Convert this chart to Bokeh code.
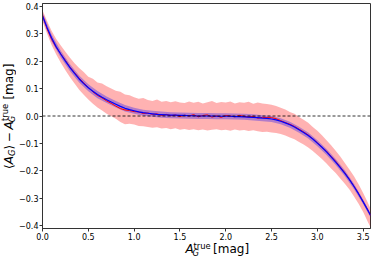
from bokeh.plotting import figure
from bokeh.models import Range1d, FixedTicker, Span, Label
from bokeh.layouts import row, column
from bokeh.embed import file_html
from bokeh.resources import INLINE
import math

# ---------------- data ----------------
a_true = [0.00, 0.05, 0.10, 0.15, 0.20, 0.25, 0.30, 0.35, 0.40, 0.45,
          0.50, 0.55, 0.60, 0.65, 0.70, 0.75, 0.80, 0.85, 0.90, 0.95,
          1.00, 1.05, 1.10, 1.15, 1.20, 1.25, 1.30, 1.35, 1.40, 1.45,
          1.50, 1.55, 1.60, 1.65, 1.70, 1.75, 1.80, 1.85, 1.90, 1.95,
          2.00, 2.05, 2.10, 2.15, 2.20, 2.25, 2.30, 2.35, 2.40, 2.45,
          2.50, 2.55, 2.60, 2.65, 2.70, 2.75, 2.80, 2.85, 2.90, 2.95,
          3.00, 3.05, 3.10, 3.15, 3.20, 3.25, 3.30, 3.35, 3.40, 3.45,
          3.50, 3.55, 3.58]

mean_bias = [0.368, 0.318, 0.279, 0.250, 0.226, 0.203, 0.178, 0.158, 0.138, 0.121,
             0.104, 0.088, 0.075, 0.066, 0.055, 0.046, 0.036, 0.027, 0.022, 0.020,
             0.016, 0.015, 0.009, 0.011, 0.006, 0.008, 0.002, 0.006, 0.001, 0.004,
             -0.002, 0.003, 0.000, 0.005, -0.003, 0.002, 0.004, -0.004, 0.001, -0.005,
             0.002, 0.000, -0.003, 0.002, -0.001, -0.004, -0.001, -0.008, -0.005, -0.006,
             -0.006, -0.010, -0.017, -0.024, -0.030, -0.038, -0.048, -0.058, -0.069, -0.083,
             -0.097, -0.114, -0.128, -0.147, -0.165, -0.186, -0.207, -0.231, -0.256, -0.283,
             -0.313, -0.342, -0.362]

fit_bias = [0.365, 0.322, 0.284, 0.252, 0.225, 0.200, 0.176, 0.155, 0.135, 0.118,
            0.103, 0.090, 0.078, 0.068, 0.059, 0.051, 0.043, 0.035, 0.028, 0.023,
            0.019, 0.015, 0.012, 0.010, 0.008, 0.006, 0.005, 0.004, 0.003, 0.003,
            0.002, 0.002, 0.001, 0.001, 0.000, 0.000, 0.000, 0.000, -0.001, -0.001,
            -0.001, -0.001, -0.002, -0.002, -0.003, -0.004, -0.005, -0.006, -0.008, -0.009,
            -0.011, -0.014, -0.019, -0.025, -0.032, -0.040, -0.050, -0.060, -0.071, -0.084,
            -0.099, -0.114, -0.131, -0.149, -0.168, -0.188, -0.209, -0.232, -0.257, -0.284,
            -0.313, -0.343, -0.362]

spread_hi = [0.385, 0.346, 0.310, 0.281, 0.257, 0.234, 0.212, 0.192, 0.175, 0.160,
             0.143, 0.136, 0.122, 0.118, 0.108, 0.100, 0.092, 0.088, 0.078, 0.076,
             0.068, 0.063, 0.066, 0.058, 0.055, 0.060, 0.052, 0.055, 0.050, 0.054,
             0.049, 0.047, 0.053, 0.048, 0.052, 0.046, 0.050, 0.055, 0.047, 0.051,
             0.049, 0.053, 0.046, 0.050, 0.048, 0.052, 0.045, 0.049, 0.046, 0.044,
             0.041, 0.036, 0.030, 0.024, 0.015, 0.008, -0.004, -0.014, -0.025, -0.040,
             -0.054, -0.070, -0.088, -0.107, -0.127, -0.148, -0.171, -0.195, -0.220, -0.249,
             -0.281, -0.315, -0.337]

spread_lo = [0.345, 0.300, 0.258, 0.224, 0.194, 0.167, 0.141, 0.118, 0.096, 0.077,
             0.060, 0.045, 0.031, 0.020, 0.008, -0.001, -0.010, -0.022, -0.030, -0.028,
             -0.031, -0.036, -0.037, -0.040, -0.043, -0.041, -0.046, -0.044, -0.048, -0.045,
             -0.050, -0.047, -0.051, -0.048, -0.052, -0.049, -0.053, -0.050, -0.048, -0.052,
             -0.050, -0.054, -0.049, -0.053, -0.051, -0.055, -0.052, -0.056, -0.058, -0.057,
             -0.060, -0.062, -0.066, -0.071, -0.078, -0.085, -0.095, -0.104, -0.115, -0.128,
             -0.142, -0.157, -0.173, -0.191, -0.208, -0.228, -0.247, -0.268, -0.293, -0.320,
             -0.350, -0.385, -0.405]

inner_x = [0.0, 0.1, 0.2, 0.3, 0.4, 0.5, 0.6, 0.7, 0.8, 0.9,
           1.0, 1.1, 1.2, 1.3, 1.4, 1.5, 1.6, 1.7, 1.8, 1.9,
           2.0, 2.1, 2.2, 2.3, 2.4, 2.5, 2.6, 2.7, 2.8, 2.9,
           3.0, 3.1, 3.2, 3.3, 3.4, 3.5, 3.58]
inner_hi = [0.378, 0.297, 0.238, 0.189, 0.148, 0.116, 0.091, 0.071, 0.055, 0.040,
            0.030, 0.023, 0.019, 0.016, 0.014, 0.013, 0.012, 0.011, 0.011, 0.010,
            0.010, 0.009, 0.008, 0.006, 0.003, 0.000, -0.008, -0.021, -0.039, -0.060,
            -0.088, -0.120, -0.157, -0.198, -0.247, -0.304, -0.354]
inner_lo = [0.352, 0.271, 0.212, 0.163, 0.122, 0.090, 0.065, 0.047, 0.031, 0.016,
            0.008, 0.001, -0.003, -0.006, -0.008, -0.009, -0.010, -0.011, -0.011, -0.012,
            -0.012, -0.013, -0.014, -0.016, -0.019, -0.022, -0.030, -0.043, -0.061, -0.082,
            -0.110, -0.142, -0.179, -0.220, -0.267, -0.322, -0.370]

x_ticks = [0.0, 0.5, 1.0, 1.5, 2.0, 2.5, 3.0, 3.5]
x_tick_labels = ["0.0", "0.5", "1.0", "1.5", "2.0", "2.5", "3.0", "3.5"]
y_ticks = [-0.4, -0.3, -0.2, -0.1, 0.0, 0.1, 0.2, 0.3, 0.4]
y_tick_labels = ["\u22120.4", "\u22120.3", "\u22120.2", "\u22120.1", "0.0", "0.1", "0.2", "0.3", "0.4"]

# ---------------- layout ----------------
TOTAL_W, TOTAL_H = 374, 257
LW = 16                      # strip holding the rotated y label
MW, MH = TOTAL_W - LW, 242   # main plot
BH = TOTAL_H - MH            # strip holding the x label
XMIN, XMAX = 0.0, 3.58
YMIN, YMAX = -0.41, 0.41

p = figure(width=MW, height=MH, output_backend="svg", toolbar_location=None,
           title=None,
           x_range=Range1d(XMIN, XMAX), y_range=Range1d(YMIN, YMAX),
           min_border_left=24, min_border_right=4,
           min_border_top=3, min_border_bottom=14)
p.grid.visible = False
p.background_fill_color = "white"
p.border_fill_color = "white"
p.outline_line_color = "#333333"
p.outline_line_width = 1

for ax, ticks, labels in ((p.xaxis[0], x_ticks, x_tick_labels), (p.yaxis[0], y_ticks, y_tick_labels)):
    ax.ticker = FixedTicker(ticks=ticks)
    ax.major_label_overrides = {t: l for t, l in zip(ticks, labels)}
    ax.minor_tick_line_color = None
    ax.major_tick_in = 0
    ax.major_tick_out = 3
    ax.major_label_standoff = 1
    ax.axis_line_color = "#333333"
    ax.major_tick_line_color = "#333333"
    ax.major_label_text_font = "DejaVu Sans"
    ax.major_label_text_font_size = "8px"
    ax.major_label_text_color = "black"

# bands and lines
p.varea(x=a_true, y1=spread_lo, y2=spread_hi, fill_color="red", fill_alpha=0.3)
p.varea(x=inner_x, y1=inner_lo, y2=inner_hi, fill_color="blue", fill_alpha=0.3)
p.line(a_true, mean_bias, line_color="red", line_width=1)
p.line(a_true, fit_bias, line_color="blue", line_width=1.2)
p.add_layout(Span(location=0, dimension="width", line_color="black",
                  line_dash="3 2", line_width=0.8))


# ---------------- axis-label strips (frame = whole canvas, 1 unit = 1 px) ----------------
def strip(w, h):
    f = figure(width=w, height=h, output_backend="svg", toolbar_location=None,
               title=None, x_range=Range1d(0, w), y_range=Range1d(0, h),
               x_axis_location=None, y_axis_location=None, min_border=0)
    f.grid.visible = False
    f.outline_line_color = None
    f.background_fill_color = "white"
    f.border_fill_color = "white"
    return f


MID = 0.346  # distance from baseline to vertical middle, in em


def lab(fig, text, bx, by, size, italic=False, vertical=False):
    # (bx, by) is the baseline-left point; shift to the text middle
    if vertical:
        x, y, ang = bx - MID * size, by, math.pi / 2
    else:
        x, y, ang = bx, by + MID * size, 0.0
    fig.add_layout(Label(x=x, y=y, text=text, text_font="DejaVu Sans",
                         text_font_size=f"{size}px",
                         text_font_style="italic" if italic else "normal",
                         angle=ang, text_align="left", text_baseline="middle",
                         text_color="black"))


# y label: <A_G> - A_G^true [mag]  (page x = data x, page y = TOTAL_H - data y)
ly = strip(LW, TOTAL_H)
yb = 12.5
def py(page_y):
    return TOTAL_H - page_y
lab(ly, "\u27e8", yb, py(168.5), 12, vertical=True)
lab(ly, "A", yb, py(163.8), 12, italic=True, vertical=True)
lab(ly, "G", yb + 1.5, py(155.6), 8.4, italic=True, vertical=True)
lab(ly, "\u27e9", yb, py(149.1), 12, vertical=True)
lab(ly, "\u2212", yb, py(141.8), 12, vertical=True)
lab(ly, "A", yb, py(129.1), 12, italic=True, vertical=True)
lab(ly, "G", yb + 1.5, py(121.7), 8.4, italic=True, vertical=True)
lab(ly, "true", yb - 4.7, py(120.6), 8.4, vertical=True)
lab(ly, "[mag]", yb, py(99.1), 12, vertical=True)

# x label: A_G^true [mag]  (page x = data x + LW, page y = TOTAL_H - data y)
lx = strip(MW, BH)
x0 = 172.2 - LW
xb = 4.0
lab(lx, "A", x0, xb, 12, italic=True)
lab(lx, "G", x0 + 7.4, xb - 2.8, 8.4, italic=True)
lab(lx, "true", x0 + 8.5, xb + 4.7, 8.4)
lab(lx, "[mag]", x0 + 30.0, xb, 12)

layout = row(ly, column(p, lx, spacing=0), spacing=0)
open("out.html", "w").write(file_html(layout, INLINE))
